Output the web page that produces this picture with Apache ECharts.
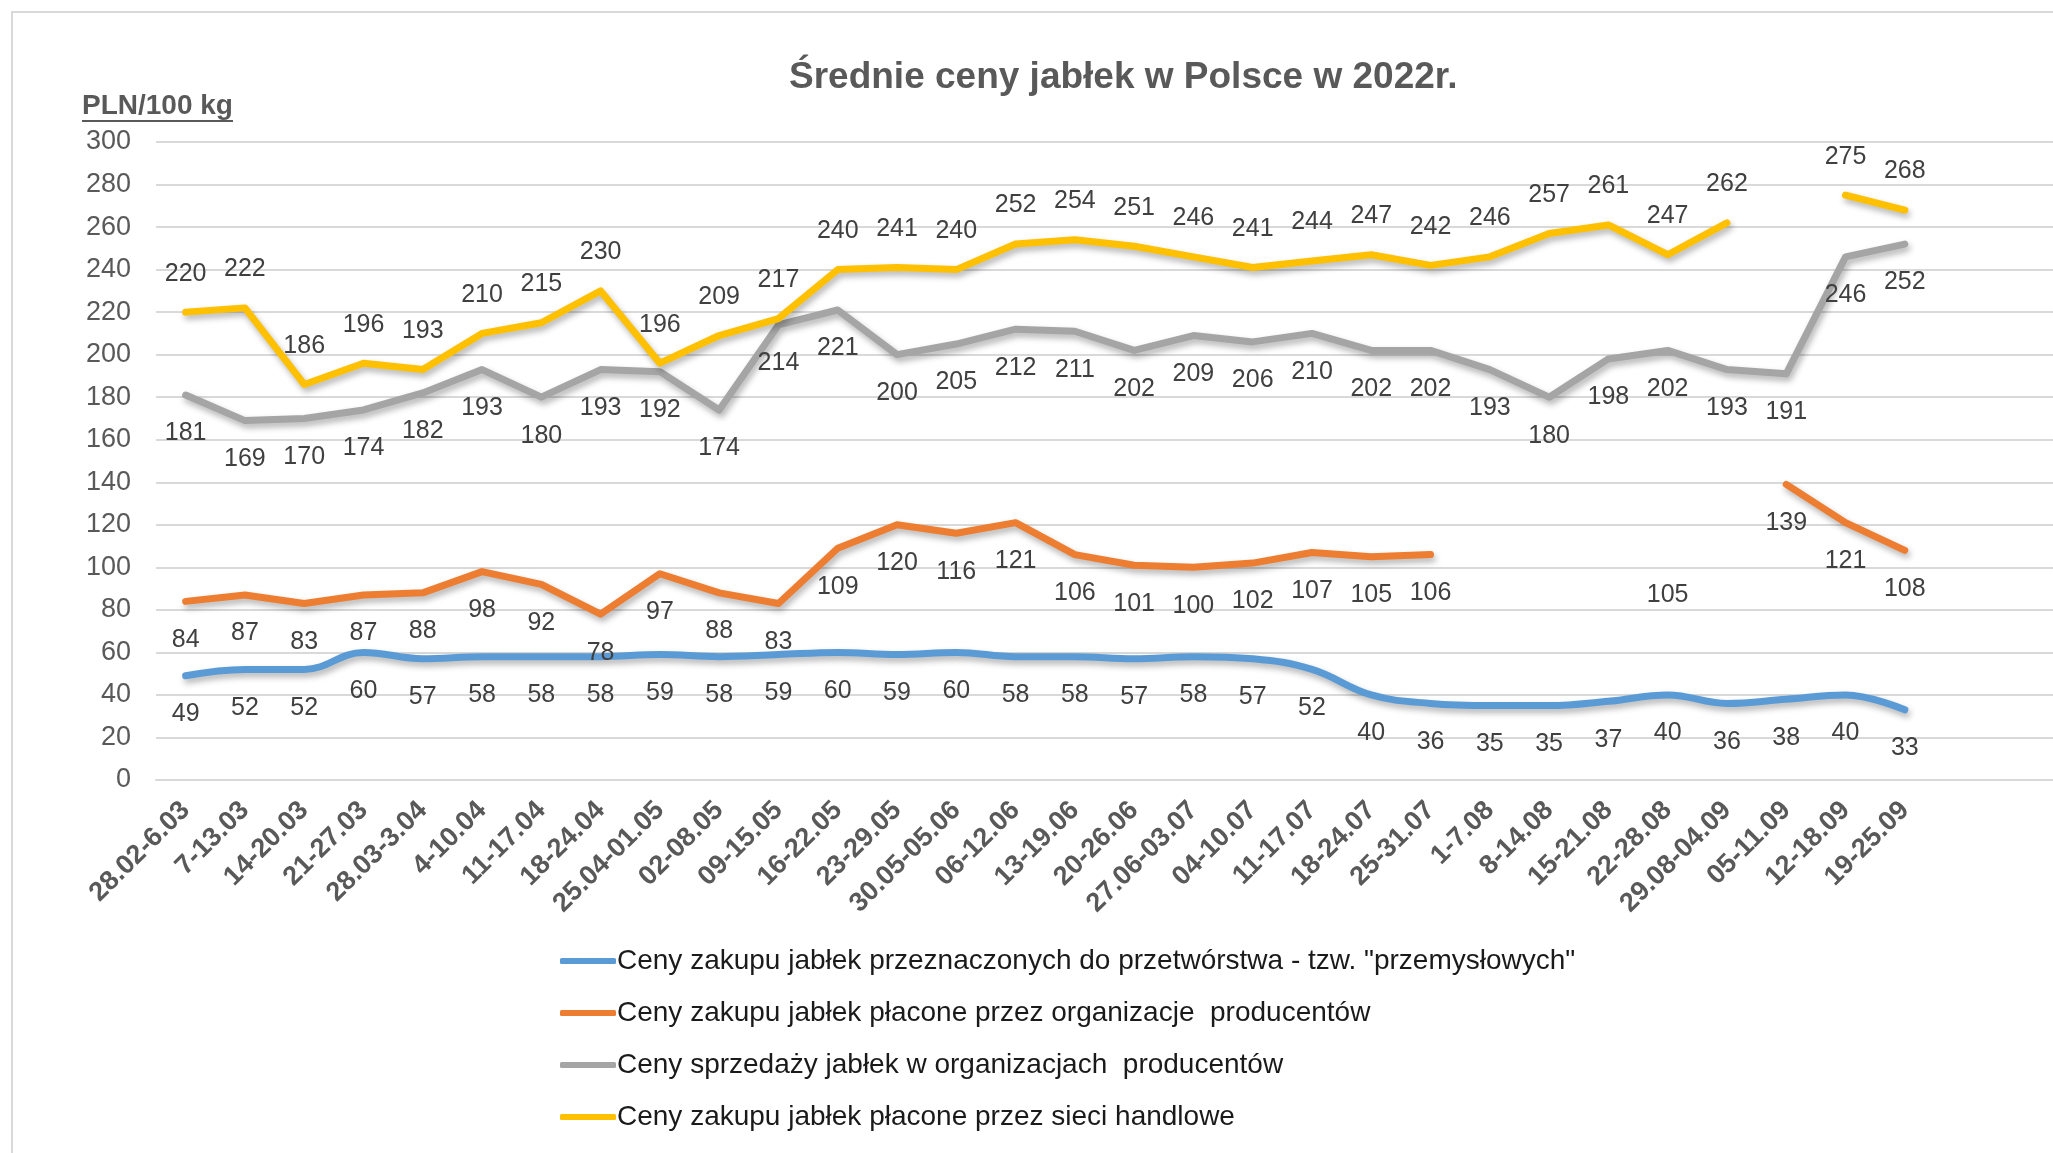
<!DOCTYPE html>
<html>
<head>
<meta charset="utf-8">
<script src="https://cdn.jsdelivr.net/npm/echarts@6/dist/echarts.min.js"></script>
<style>
  html, body { margin: 0; padding: 0; background: #fff; }
  #main { width: 2053px; height: 1153px; }
</style>
</head>
<body>
<div id="main"></div>
<script>
// tygodnie (oś X)
const weeks = ['28.02-6.03', '7-13.03', '14-20.03', '21-27.03', '28.03-3.04', '4-10.04', '11-17.04',
  '18-24.04', '25.04-01.05', '02-08.05', '09-15.05', '16-22.05', '23-29.05', '30.05-05.06',
  '06-12.06', '13-19.06', '20-26.06', '27.06-03.07', '04-10.07', '11-17.07', '18-24.07',
  '25-31.07', '1-7.08', '8-14.08', '15-21.08', '22-28.08', '29.08-04.09', '05-11.09',
  '12-18.09', '19-25.09']

const yTicks = [0, 20, 40, 60, 80, 100, 120, 140, 160, 180, 200, 220, 240, 260, 280, 300]

// ceny w PLN/100 kg
const przemyslowe = [49, 52, 52, 60, 57, 58, 58, 58, 59, 58, 59, 60, 59, 60, 58, 58, 57, 58, 57, 52,
  40, 36, 35, 35, 37, 40, 36, 38, 40, 33]
const zakupOrganizacje = [84, 87, 83, 87, 88, 98, 92, 78, 97, 88, 83, 109, 120, 116, 121, 106, 101, 100, 102, 107,
  105, 106, null, null, null, 105, null, 139, 121, 108]
const sprzedazOrganizacje = [181, 169, 170, 174, 182, 193, 180, 193, 192, 174, 214, 221, 200, 205, 212, 211, 202, 209, 206, 210,
  202, 202, 193, 180, 198, 202, 193, 191, 246, 252]
const sieciHandlowe = [220, 222, 186, 196, 193, 210, 215, 230, 196, 209, 217, 240, 241, 240, 252, 254, 251, 246, 241, 244,
  247, 242, 246, 257, 261, 247, 262, null, 275, 268]

const seriesNames = [
  'Ceny zakupu jabłek przeznaczonych do przetwórstwa - tzw. "przemysłowych"',
  'Ceny zakupu jabłek płacone przez organizacje  producentów',
  'Ceny sprzedaży jabłek w organizacjach  producentów',
  'Ceny zakupu jabłek płacone przez sieci handlowe'
]
const colors = ['#5B9BD5', '#ED7D31', '#A5A5A5', '#FFC000']

const FONT = '"Liberation Sans", Arial, sans-serif'

const myChart = echarts.init(document.getElementById('main'))

function lineSeries(idx, data, labelPos, smooth) {
  return {
    name: seriesNames[idx],
    type: 'line',
    data: data,
    smooth: smooth,
    symbol: 'circle',
    symbolSize: 0,
    showSymbol: true,
    showAllSymbol: true,
    itemStyle: { color: colors[idx] },
    lineStyle: {
      width: 7,
      color: colors[idx],
      cap: 'round',
      join: 'round',
      shadowColor: 'rgba(0,0,0,0.3)',
      shadowBlur: 6,
      shadowOffsetX: 2,
      shadowOffsetY: 4
    },
    label: {
      show: true,
      position: labelPos,
      distance: 26,
      color: '#404040',
      fontSize: 25,
      fontFamily: FONT
    },
    emphasis: { disabled: true }
  }
}

const option = {
  animation: false,
  backgroundColor: '#fff',
  color: colors,
  title: {
    text: 'Średnie ceny jabłek w Polsce w 2022r.',
    left: 784,
    top: 54,
    textStyle: { fontFamily: FONT, fontSize: 37, fontWeight: 'bold', color: '#595959' }
  },
  graphic: [
    {
      type: 'rect',
      shape: { x: 12, y: 12, width: 2200, height: 1300 },
      style: { fill: 'none', stroke: '#d9d9d9', lineWidth: 2 },
      silent: true
    },
    {
      type: 'text',
      left: 82,
      top: 92,
      style: { text: 'PLN/100 kg', font: 'bold 28px ' + FONT, fill: '#595959' }
    },
    {
      type: 'line',
      shape: { x1: 82, y1: 121, x2: 233, y2: 121 },
      style: { stroke: '#595959', lineWidth: 2 }
    }
  ],
  legend: {
    orient: 'vertical',
    left: 555,
    top: 942,
    icon: 'roundRect',
    itemWidth: 56,
    itemHeight: 6,
    itemGap: 24,
    textStyle: { fontFamily: FONT, fontSize: 28, color: '#1a1a1a', padding: [0, 0, 0, -4] },
    data: seriesNames
  },
  grid: { left: 156, top: 142, right: 0, bottom: 373, containLabel: false },
  xAxis: {
    type: 'category',
    data: weeks,
    max: 31,
    boundaryGap: true,
    axisLine: { show: true, lineStyle: { color: '#d9d9d9', width: 2 } },
    axisTick: { show: false },
    axisLabel: {
      interval: 0,
      rotate: 45,
      margin: 26,
      fontFamily: FONT,
      fontSize: 27,
      fontWeight: 'bold',
      color: '#595959',
      formatter: v => (v == null ? '' : v)
    }
  },
  yAxis: {
    type: 'value',
    min: yTicks[0],
    max: yTicks[yTicks.length - 1],
    interval: 20,
    axisLine: { show: false },
    axisTick: { show: false },
    splitLine: { lineStyle: { color: '#d9d9d9', width: 2 } },
    axisLabel: { fontFamily: FONT, fontSize: 27, color: '#595959', margin: 25 }
  },
  series: [
    lineSeries(0, przemyslowe, 'bottom', 0.4),
    lineSeries(1, zakupOrganizacje, 'bottom', false),
    lineSeries(2, sprzedazOrganizacje, 'bottom', false),
    lineSeries(3, sieciHandlowe, 'top', false)
  ]
}

myChart.setOption(option)
</script>
</body>
</html>
